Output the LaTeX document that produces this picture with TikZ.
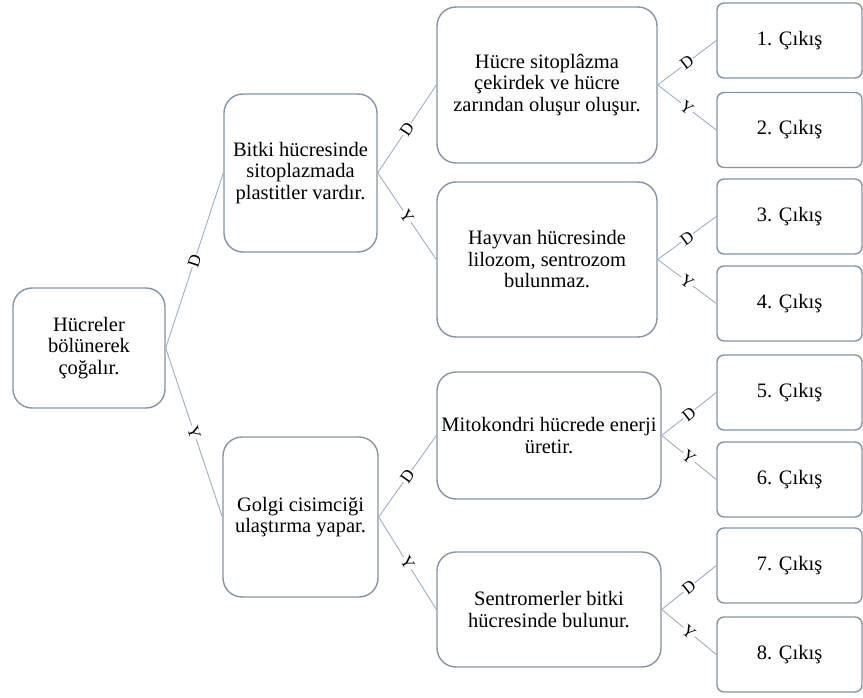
\documentclass[tikz,border=0pt]{standalone}
\usepackage{fontspec}
\setmainfont{Liberation Serif}
\definecolor{boxgray}{HTML}{8494A8}
\definecolor{linkblue}{HTML}{9AAFC8}
\begin{document}
\begin{tikzpicture}[x=1pt,y=-1pt,
	box/.style={draw=boxgray,line width=1.4pt,rounded corners=19pt,align=center,inner sep=2pt,font=\fontsize{20.5}{21.5}\selectfont},
	outbox/.style={draw=boxgray,line width=1.4pt,rounded corners=7pt,minimum width=145pt,minimum height=75pt,font=\fontsize{20.5}{21.5}\selectfont},
	link/.style={draw=linkblue,line width=0.9pt},
	ans/.style={midway,sloped,fill=white,inner sep=1pt,font=\fontsize{17}{17}\selectfont}]
	\useasboundingbox (0,0) rectangle (863,698);
	% questions
	\node[box,minimum width=152pt,minimum height=120pt] (root) at (89,348) {Hücreler\\bölünerek\\çoğalır.};
	\node[box,minimum width=153pt,minimum height=158pt] (bitki) at (300.5,173) {Bitki hücresinde\\sitoplazmada\\plastitler vardır.};
	\node[box,minimum width=155pt,minimum height=160pt] (golgi) at (300.5,517) {Golgi cisimciği\\ulaştırma yapar.};
	\node[box,minimum width=220pt,minimum height=156pt] (sito) at (547,85) {Hücre sitoplâzma\\çekirdek ve hücre\\zarından oluşur oluşur.};
	\node[box,minimum width=220pt,minimum height=155pt] (hayvan) at (547,259.5) {Hayvan hücresinde\\lilozom, sentrozom\\bulunmaz.};
	\node[box,minimum width=224pt,minimum height=127pt] (mito) at (549,435.5) {Mitokondri hücrede enerji\\üretir.};
	\node[box,minimum width=224pt,minimum height=115pt] (sentro) at (549,609.5) {Sentromerler bitki\\hücresinde bulunur.};
	% outputs
	\foreach \n/\y in {1/40.5,2/130,3/216.5,4/303.5,5/392.5,6/479.5,7/565.5,8/654.5}
		\node[outbox] (out\n) at (789.5,\y) {\n. Çıkış};
	% branches
	\draw[link] (root.east) -- node[ans]{D} (bitki.west);
	\draw[link] (root.east) -- node[ans]{Y} (golgi.west);
	\draw[link] (bitki.east) -- node[ans]{D} (sito.west);
	\draw[link] (bitki.east) -- node[ans]{Y} (hayvan.west);
	\draw[link] (golgi.east) -- node[ans]{D} (mito.west);
	\draw[link] (golgi.east) -- node[ans]{Y} (sentro.west);
	\foreach \q/\d/\e in {sito/1/2,hayvan/3/4,mito/5/6,sentro/7/8}{
		\draw[link] (\q.east) -- node[ans]{D} (out\d.west);
		\draw[link] (\q.east) -- node[ans]{Y} (out\e.west);
	}
\end{tikzpicture}
\end{document}
